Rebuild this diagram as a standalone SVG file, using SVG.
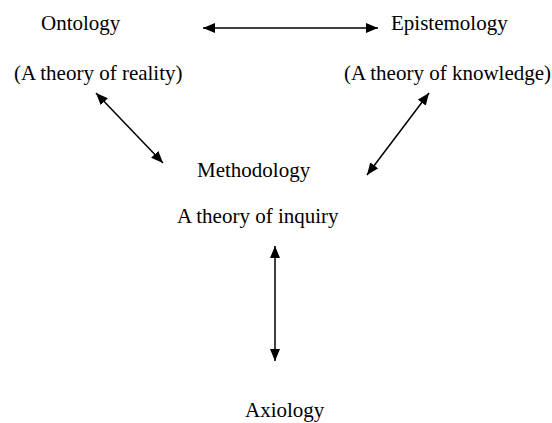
<svg xmlns="http://www.w3.org/2000/svg" width="552" height="423" viewBox="0 0 552 423">
<style>
text{font-family:"Liberation Serif","Times New Roman",serif;font-size:21px;fill:#000}
.c{stroke:#000;stroke-width:1.5;fill:none}
</style>
<defs>
<marker id="ah" viewBox="0 0 12 10" refX="12" refY="5" markerWidth="12" markerHeight="10" markerUnits="userSpaceOnUse" orient="auto-start-reverse">
<path d="M0,0 L12,5 L0,10 Z" fill="#000"/>
</marker>
</defs>
<rect width="552" height="423" fill="#fff"/>
<g id="ontology"><text x="41" y="30">Ontology</text><text x="14" y="80">(A theory of reality)</text></g>
<g id="epistemology"><text x="391" y="30">Epistemology</text><text x="344" y="80">(A theory of knowledge)</text></g>
<g id="methodology"><text x="197" y="177">Methodology</text><text x="177" y="223">A theory of inquiry</text></g>
<g id="axiology"><text x="245" y="417">Axiology</text></g>
<g id="connectors">
<line class="c" x1="203" y1="28" x2="378" y2="28" marker-start="url(#ah)" marker-end="url(#ah)"/>
<line class="c" x1="96" y1="93" x2="163" y2="163" marker-start="url(#ah)" marker-end="url(#ah)"/>
<line class="c" x1="429" y1="93" x2="367" y2="175" marker-start="url(#ah)" marker-end="url(#ah)"/>
<line class="c" x1="275" y1="246" x2="275" y2="361" marker-start="url(#ah)" marker-end="url(#ah)"/>
</g>
</svg>
